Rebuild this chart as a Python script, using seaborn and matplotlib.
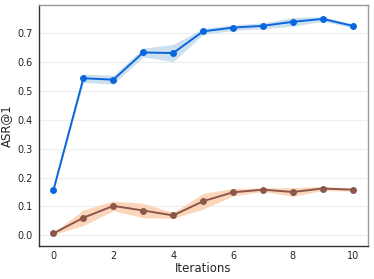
import matplotlib
matplotlib.use("Agg")
import matplotlib.pyplot as plt
import seaborn as sns
import numpy as np
import pandas as pd

iterations = list(range(11))
blue_mean = [0.157, 0.543, 0.538, 0.632, 0.630, 0.705, 0.718, 0.724, 0.738, 0.748, 0.724]
blue_err = [0.004, 0.015, 0.015, 0.015, 0.03, 0.01, 0.01, 0.01, 0.015, 0.008, 0.007]
brown_mean = [0.007, 0.061, 0.102, 0.086, 0.069, 0.118, 0.149, 0.158, 0.150, 0.162, 0.158]
brown_err = [0.004, 0.027, 0.017, 0.025, 0.01, 0.027, 0.013, 0.006, 0.015, 0.007, 0.005]

sns.set_theme(style="white")
plt.rcParams['font.family'] = ['DejaVu Sans']

fig, ax = plt.subplots(figsize=(3.74, 2.79), dpi=100)

df = pd.DataFrame({"it": iterations, "blue": blue_mean, "brown": brown_mean})

ax.fill_between(iterations, np.array(blue_mean) - np.array(blue_err),
                np.array(blue_mean) + np.array(blue_err), color="#bcd6ec", alpha=0.75, lw=0)
ax.fill_between(iterations, np.array(brown_mean) - np.array(brown_err),
                np.array(brown_mean) + np.array(brown_err), color="#fcc9a5", alpha=0.75, lw=0)
sns.lineplot(data=df, x="it", y="blue", ax=ax, color="#0a66dc", marker="o",
             markersize=5, markeredgewidth=0, lw=1.4)
sns.lineplot(data=df, x="it", y="brown", ax=ax, color="#8c564b", marker="o",
             markersize=5, markeredgewidth=0, lw=1.4)

ax.set_xlim(-0.5, 10.5)
ax.set_ylim(-0.035, 0.795)
ax.set_xticks([0, 2, 4, 6, 8, 10])
ax.set_yticks([0.0, 0.1, 0.2, 0.3, 0.4, 0.5, 0.6, 0.7])
ax.yaxis.grid(True, color="#eeeeee", lw=0.8)
ax.set_axisbelow(True)
ax.set_xlabel("Iterations", fontsize=8.5, labelpad=1)
ax.set_ylabel("ASR@1", fontsize=8.5, labelpad=3)
ax.tick_params(axis="both", labelsize=7, length=0, pad=4)
for s in ax.spines.values():
    s.set_color("#999999")
    s.set_linewidth(1.0)
ax.spines["bottom"].set_color("#333333")
ax.spines["left"].set_color("#333333")

fig.subplots_adjust(left=0.103, right=0.983, top=0.981, bottom=0.12)
fig.savefig("out.png", dpi=100)
